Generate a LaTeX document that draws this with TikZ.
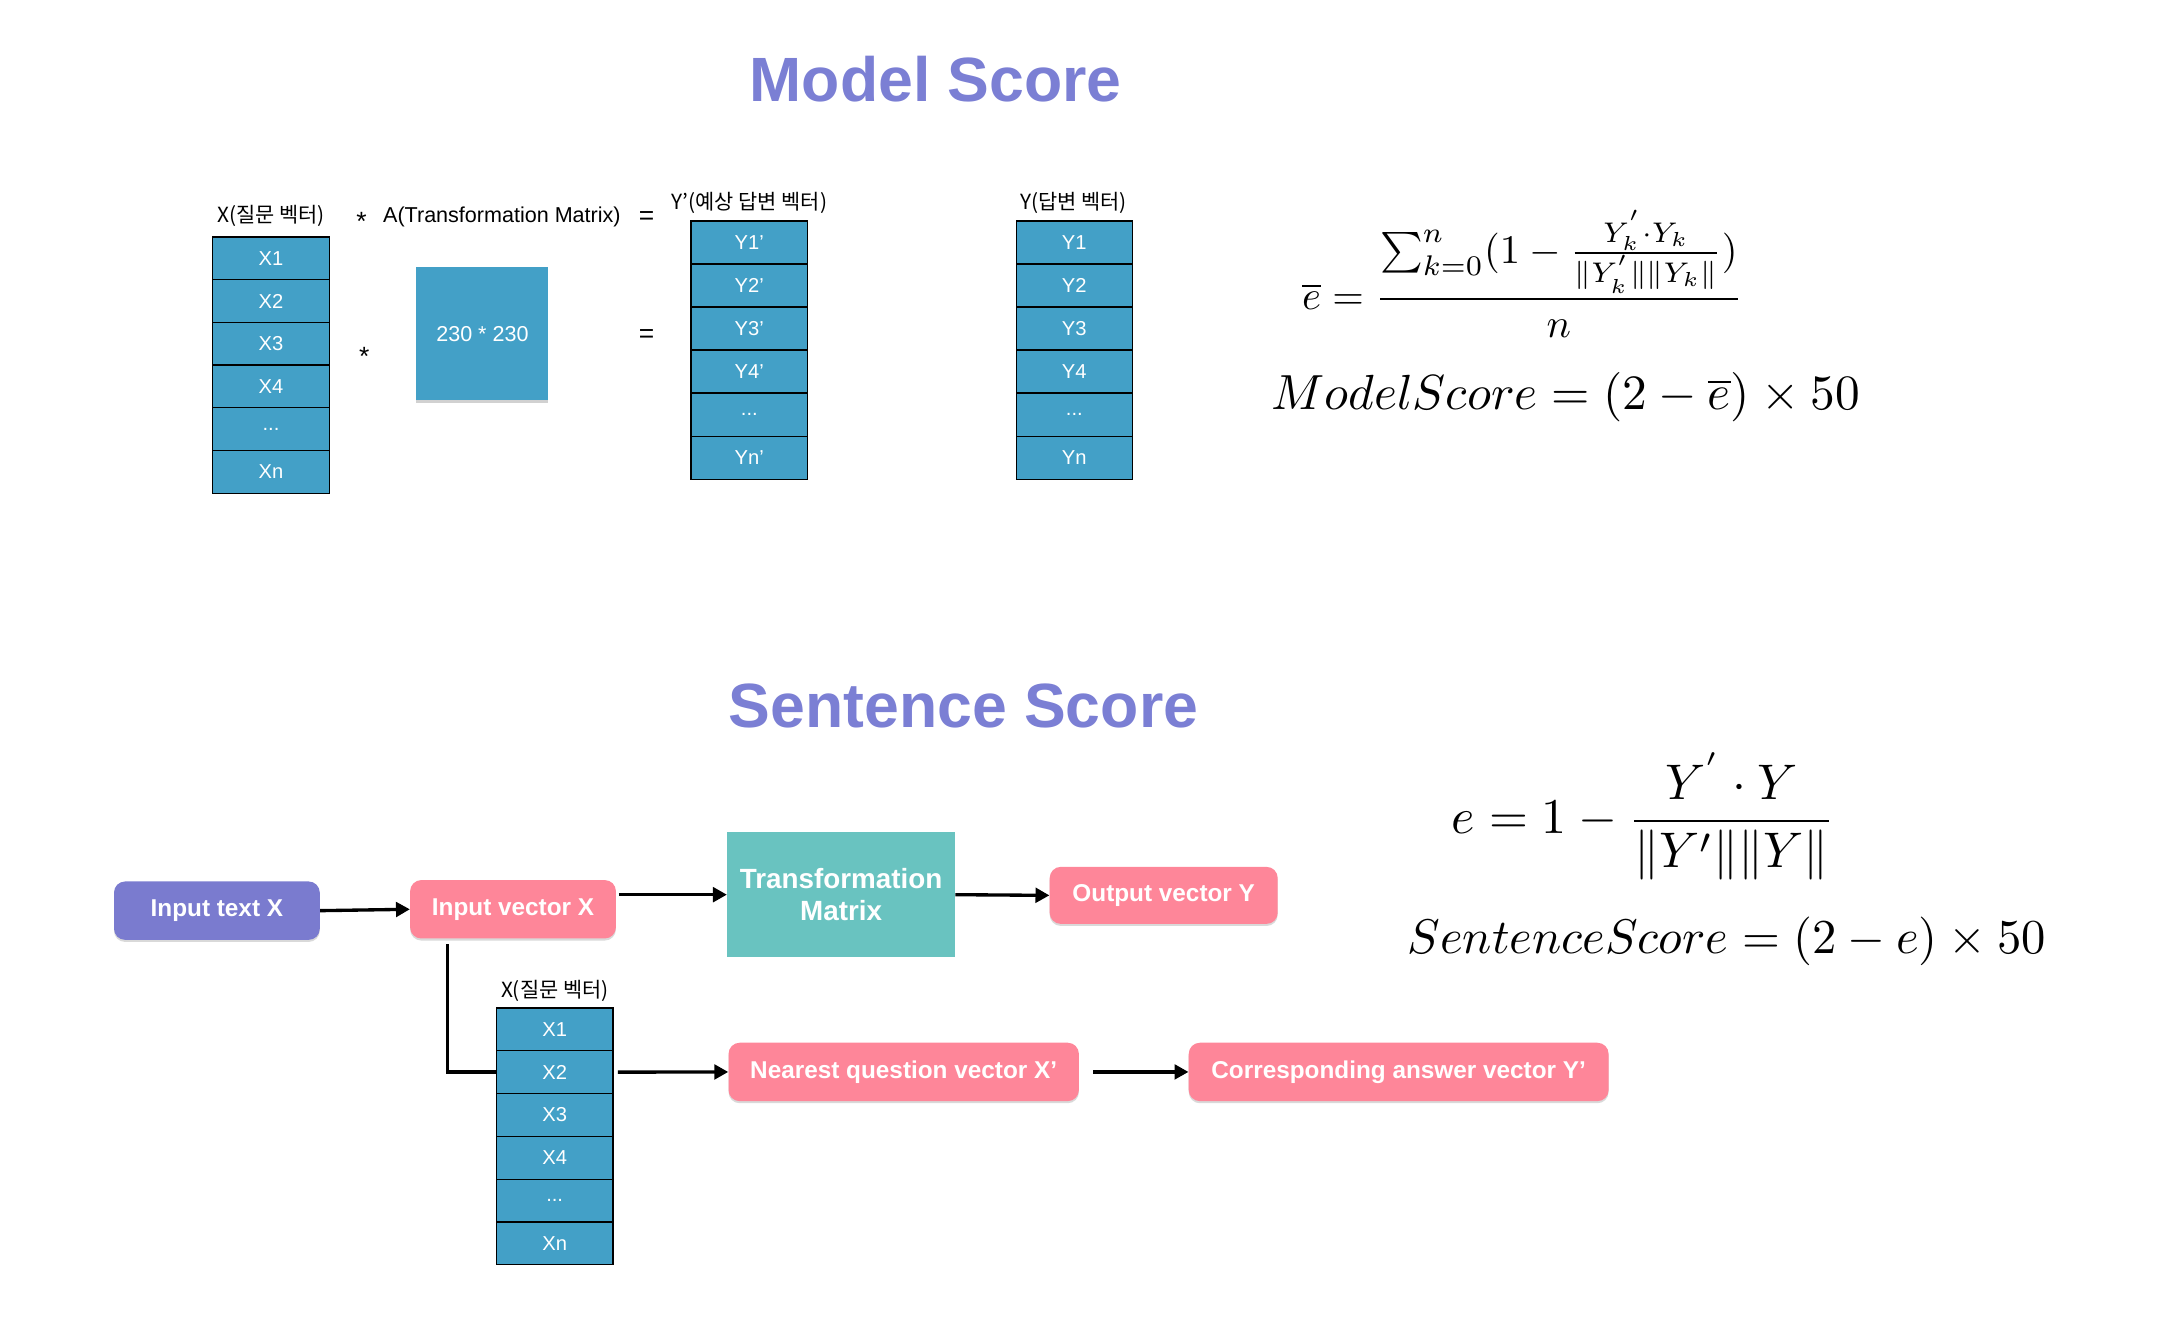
\documentclass[tikz,border=0pt]{standalone}
\usepackage{fontspec}
\usepackage{graphicx}
\newfontfamily\hv{Liberation Sans}
\newfontfamily\kr{Noto Sans CJK KR}
\usetikzlibrary{arrows.meta,shadows}
\definecolor{cellblue}{HTML}{43A0C7}
\definecolor{titlepurple}{HTML}{7B7FD4}
\definecolor{boxpurple}{HTML}{7A7BCF}
\definecolor{boxpink}{HTML}{FE8699}
\definecolor{boxteal}{HTML}{69C3C0}
\newcommand{\mydots}{...}
\begin{document}
\begin{tikzpicture}[x=1pt,y=-1pt,
  cell/.style={draw=black, line width=0.9pt, fill=cellblue, text=white, minimum width=84pt, minimum height=30.8pt, inner sep=0pt, anchor=north west, font=\hv\fontsize{14.5}{14.5}\selectfont},
  lbl/.style={font=\kr\fontsize{15}{15}\selectfont, inner sep=0pt},
  sym/.style={font=\hv\fontsize{19}{19}\selectfont, inner sep=0pt},
  title/.style={font=\hv\bfseries\fontsize{45}{45}\selectfont, text=titlepurple, inner sep=0pt},
  rbox/.style={rounded corners=8pt, fill=boxpink, text=white, font=\hv\bfseries\fontsize{17.5}{22}\selectfont, inner sep=0pt, drop shadow={shadow xshift=0pt, shadow yshift=-1.5pt, opacity=0.25, fill=black!60}},
  arr/.style={line width=2.4pt, -{Triangle[length=10pt,width=10.5pt]}},
  conn/.style={line width=2.4pt},
  fml/.style={inner sep=0pt}
]
\useasboundingbox (0,0) rectangle (1568,956.5);

% titles
\node[title] (mt) at (673,57) {Model Score};
\node[title] (st) at (693,508) {Sentence Score};

% top labels
\node[lbl] (lblx) at (195,155) {X(질문 벡터)};
\node[sym] (star1) at (260,159) {*};
\node[font=\hv\fontsize{15.5}{15.5}\selectfont, inner sep=0pt] (lbla) at (361,156) {A(Transformation Matrix)};
\node[sym] (eq1) at (465,157) {=};
\node[lbl] (lblyp) at (539,146) {Y’(예상 답변 벡터)};
\node[lbl] (lbly) at (772,146) {Y(답변 벡터)};
\node[sym] (star2) at (262,256) {*};
\node[sym] (eq2) at (465,242) {=};

% top columns
\foreach \t [count=\k] in {X1,X2,X3,X4,\mydots,Xn}
  \node[cell] (xa\k) at ({152.5},{170+30.7*(\k-1)}) {\t};
\foreach \t [count=\k] in {Y1’,Y2’,Y3’,Y4’,\mydots,Yn’}
  \node[cell] (ypa\k) at ({496.5},{158.5+31*(\k-1)}) {\t};
\foreach \t [count=\k] in {Y1,Y2,Y3,Y4,\mydots,Yn}
  \node[cell, minimum width=83.5pt] (ya\k) at ({730.5},{158.5+31*(\k-1)}) {\t};

% matrix box
\node[fill=cellblue, text=white, minimum width=95pt, minimum height=96pt, inner sep=0pt,
  font=\hv\fontsize{15.5}{15.5}\selectfont,
  drop shadow={shadow xshift=0pt, shadow yshift=-1.5pt, opacity=0.3, fill=black!60}] (mat) at (347,240) {230 * 230};

% formulas
\node[fml] (fm1) at (1095,197) {\scalebox{2.92}{$\displaystyle \overline{e} = \frac{\sum_{k=0}^{n}(1-\frac{Y_k^{'}\cdot Y_k}{\|Y_k^{'}\|\|Y_k\|})}{n}$}};
\node[fml] (fm2) at (1126,286) {\scalebox{3.55}{$ModelScore = (2-\overline{e})\times 50$}};
\node[fml] (fs1) at (1182,587) {\scalebox{3.6}{$\displaystyle e = 1 - \frac{Y^{'}\cdot Y}{\|Y'\|\|Y\|}$}};
\node[fml] (fs2) at (1242,677) {\scalebox{3.5}{$SentenceScore = (2-e)\times 50$}};

% bottom flow
\node[rbox, fill=boxpurple, minimum width=148pt, minimum height=42pt] (intext) at (156,655) {Input text X};
\node[rbox, minimum width=148pt, minimum height=42pt] (invec) at (369,654) {Input vector X};
\node[fill=boxteal, text=white, font=\hv\bfseries\fontsize{20}{23.5}\selectfont, align=center, minimum width=164pt, minimum height=90pt, inner sep=0pt] (tm) at (605,643.5) {Transformation\\Matrix};
\node[rbox, minimum width=164pt, minimum height=41pt] (outvec) at (837,644) {Output vector Y};
\node[rbox, minimum width=252pt, minimum height=42pt] (near) at (650,771) {Nearest question vector X’};
\node[rbox, minimum width=302pt, minimum height=42pt] (corr) at (1006,771) {Corresponding answer vector Y’};

\node[lbl] (lblxb) at (399,713) {X(질문 벡터)};
\foreach \t [count=\k] in {X1,X2,X3,X4,\mydots,Xn}
  \node[cell] (xb\k) at ({356.5},{724.5+30.8*(\k-1)}) {\t};

% connectors
\draw[arr] (intext.east) -- (invec.west);
\draw[arr] ([xshift=2pt]invec.east |- tm.west) -- (tm.west);
\draw[arr] (tm.east) -- (outvec.west);
\draw[conn] ([xshift=27pt,yshift=-4pt]invec.south west) |- (xb2.west);
\draw[arr] ([xshift=3pt]xb2.east) -- (near.west);
\draw[arr] ([xshift=10pt]near.east) -- (corr.west);
\end{tikzpicture}
\end{document}
